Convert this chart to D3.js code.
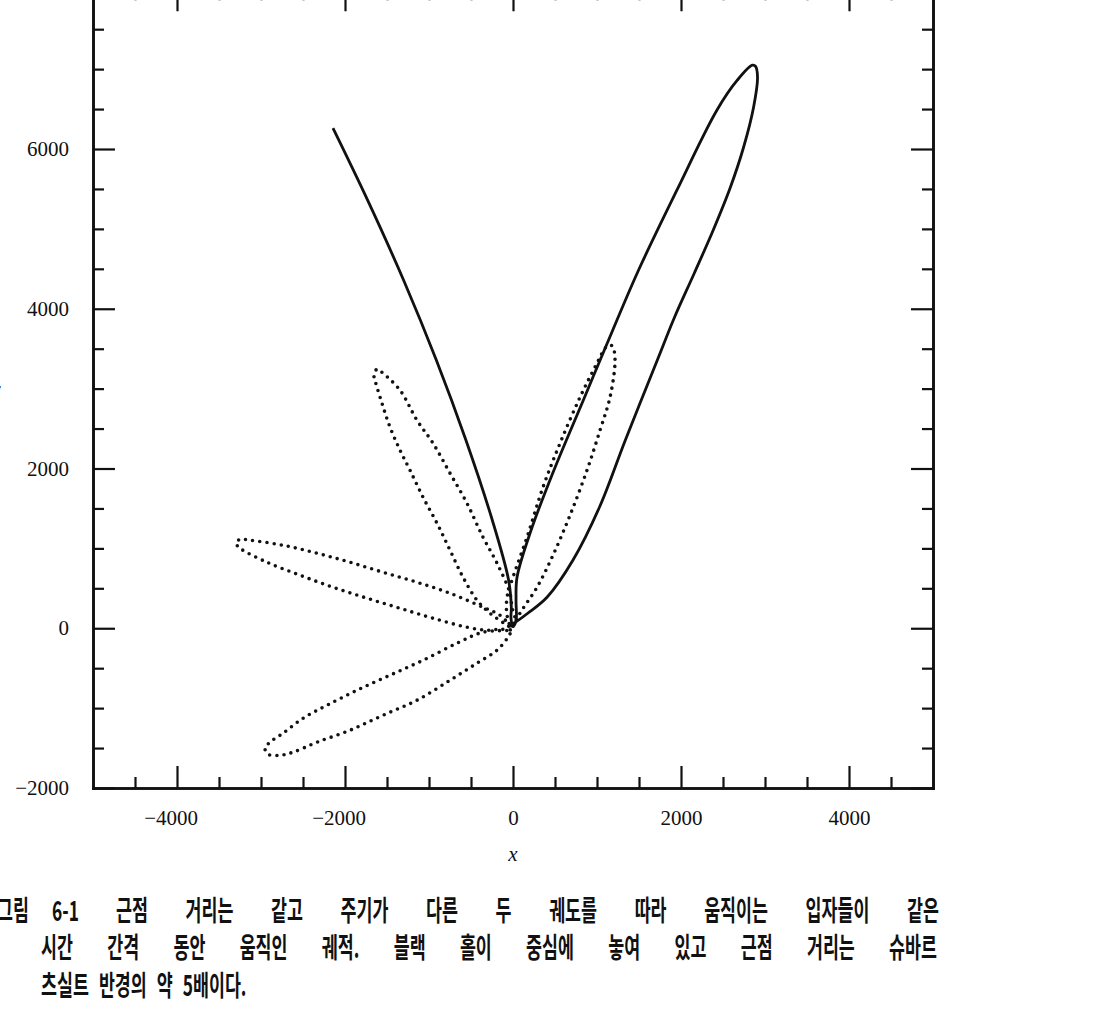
<!DOCTYPE html>
<html>
<head>
<meta charset="utf-8">
<script src="https://cdn.jsdelivr.net/npm/d3@7"></script>
<style>
  html, body { margin: 0; padding: 0; background: #fff; }
  svg { display: block; }
</style>
</head>
<body>
<div id="chart"></div>
<script>

// orbit, [x, y] in the plot's own units
var solidOrbit = [
  [-2143, 6260], [-1731, 5359], [-1302, 4357], [-912, 3355], [-560, 2354],
  [-246, 1352], [-52, 601], [-20, 263], [-24, 125], [0, 25], [36, 88],
  [36, 351], [48, 638], [215, 1227], [487, 1978], [837, 2855], [1187, 3731],
  [1494, 4482], [1951, 5484], [2427, 6485], [2670, 6861], [2849, 7049],
  [2887, 7036], [2911, 6898], [2864, 6523], [2745, 6022], [2588, 5521],
  [2383, 4983], [2158, 4445], [1923, 3894], [1727, 3380], [1337, 2354],
  [1029, 1515], [713, 851], [405, 388], [176, 188], [10, 63], [-60, 25]
];

var dottedOrbit = [
  // petal A (upper right)
  [0, 25], [83, 188], [286, 513], [476, 914], [679, 1415], [881, 1978],
  [1036, 2479], [1155, 2892], [1214, 3318], [1202, 3480], [1167, 3543],
  [1107, 3518], [1000, 3318], [798, 2892], [560, 2316], [357, 1765],
  [167, 1139], [0, 639], [-71, 388], [-71, 163], [-24, 25], [24, 100],
  // petal B
  [-12, 263], [-36, 438], [-190, 814], [-357, 1139], [-548, 1565],
  [-750, 1941], [-952, 2316], [-1143, 2604], [-1345, 2980], [-1548, 3193],
  [-1619, 3243], [-1655, 3168], [-1643, 3105], [-1560, 2817], [-1464, 2517],
  [-1345, 2229], [-1226, 1978], [-1071, 1640], [-905, 1315], [-750, 977],
  [-595, 639], [-429, 351], [-274, 188], [-107, 63], [-12, 0],
  // petal C
  [-155, 163], [-357, 263], [-750, 438], [-1143, 576], [-1548, 701],
  [-1940, 826], [-2333, 939], [-2738, 1039], [-3131, 1102], [-3250, 1114],
  [-3298, 1064], [-3250, 1002], [-2929, 826], [-2536, 664], [-2143, 513],
  [-1738, 376], [-1345, 250], [-952, 125], [-548, 13], [-310, -25],
  [-155, -13], [-12, -25],
  // petal D (lower left)
  [-357, -50], [-667, -188], [-1071, -401], [-1464, -588], [-1857, -776],
  [-2214, -964], [-2500, -1127], [-2738, -1315], [-2893, -1427], [-2952, -1502],
  [-2917, -1577], [-2774, -1590], [-2619, -1552], [-2333, -1427], [-1940, -1277],
  [-1548, -1089], [-1143, -901], [-750, -651], [-429, -438], [-190, -275],
  [-60, -113], [-12, -25]
];

var xMajorTicks = [ -4000, -2000, 0, 2000, 4000 ];
var xMinorTicks = [ -4500, -3500, -3000, -2500, -1500, -1000, -500, 500, 1000, 1500, 2500, 3000, 3500, 4500 ];
var yMajorTicks = [ -2000, 0, 2000, 4000, 6000, 8000 ];
var yMinorTicks = [ -1500, -1000, -500, 500, 1000, 1500, 2500, 3000, 3500, 4500, 5000, 5500, 6500, 7000, 7500 ];

var xLabel = 'x', yLabel = 'y';

var captionHead = [ '그림', '6-1' ];
var captionLine1 = [ '근점', '거리는', '같고', '주기가', '다른', '두', '궤도를', '따라', '움직이는', '입자들이', '같은' ];
var captionLine2 = [ '시간', '간격', '동안', '움직인', '궤적.', '블랙', '홀이', '중심에', '놓여', '있고', '근점', '거리는', '슈바르' ];
var captionLine3 = [ '츠실트', '반경의', '약', '5배이다.' ];

var width = 1104, height = 1028;
var serif = "'Liberation Serif', 'DejaVu Serif', serif";
var hangul = "'Noto Sans CJK KR', 'Noto Sans', sans-serif";
var ink = '#111';

var svg = d3.select( '#chart' ).append( 'svg' )
  .attr( 'width', width )
  .attr( 'height', height );

var xScale = d3.scaleLinear().domain( [ -5000, 5000 ] ).range( [ 93, 933 ] );
var yScale = d3.scaleLinear().domain( [ -2000, 8000 ] ).range( [ 788, -10.75 ] );

function numLabel( d ) {
  return d < 0 ? '\u2212' + Math.abs( d ) : String( d );
}

function styleAxis( g ) {
  g.attr( 'font-family', serif ).attr( 'font-size', 21 );
  g.select( '.domain' ).attr( 'stroke', ink ).attr( 'stroke-width', 2.6 ).attr( 'stroke-linecap', 'square' );
  g.selectAll( '.tick line' ).attr( 'stroke', ink ).attr( 'stroke-width', 2.2 );
  g.selectAll( '.tick text' ).attr( 'fill', ink );
}

// minor ticks first, majors on top
var axes = [
  [ d3.axisBottom( xScale ).tickValues( xMinorTicks ).tickSize( -11 ).tickFormat( '' ), 'translate(0,' + yScale( -2000 ) + ')' ],
  [ d3.axisTop( xScale ).tickValues( xMinorTicks ).tickSize( -11 ).tickFormat( '' ), 'translate(0,' + yScale( 8000 ) + ')' ],
  [ d3.axisLeft( yScale ).tickValues( yMinorTicks ).tickSize( -11 ).tickFormat( '' ), 'translate(' + xScale( -5000 ) + ',0)' ],
  [ d3.axisRight( yScale ).tickValues( yMinorTicks ).tickSize( -11 ).tickFormat( '' ), 'translate(' + xScale( 5000 ) + ',0)' ],
  [ d3.axisBottom( xScale ).tickValues( xMajorTicks ).tickSize( -22 ).tickPadding( 22 ).tickFormat( numLabel ), 'translate(0,' + yScale( -2000 ) + ')', 'bottom' ],
  [ d3.axisTop( xScale ).tickValues( xMajorTicks ).tickSize( -22 ).tickFormat( '' ), 'translate(0,' + yScale( 8000 ) + ')' ],
  [ d3.axisLeft( yScale ).tickValues( yMajorTicks ).tickSize( -22 ).tickPadding( 24 ).tickFormat( numLabel ), 'translate(' + xScale( -5000 ) + ',0)' ],
  [ d3.axisRight( yScale ).tickValues( yMajorTicks ).tickSize( -22 ).tickFormat( '' ), 'translate(' + xScale( 5000 ) + ',0)' ]
];

axes.forEach( function( a ) {
  var g = svg.append( 'g' )
    .attr( 'transform', a[ 1 ] )
    .call( a[ 0 ].tickSizeOuter( 0 ) )
    .call( styleAxis );
  if( a[ 2 ] === 'bottom' ) {
    // digits sit centred on the tick, the minus hangs to the left
    g.selectAll( '.tick text' ).filter( d => d < 0 ).attr( 'dx', '-0.3em' );
  }
} );

// axis titles
svg.append( 'text' )
  .attr( 'x', xScale( 0 ) )
  .attr( 'y', 861 )
  .attr( 'text-anchor', 'middle' )
  .attr( 'font-family', serif )
  .attr( 'font-style', 'italic' )
  .attr( 'font-size', 21 )
  .attr( 'fill', ink )
  .text( xLabel );

svg.append( 'text' )
  .attr( 'x', -4 )
  .attr( 'y', 396 )
  .attr( 'text-anchor', 'middle' )
  .attr( 'font-family', serif )
  .attr( 'font-style', 'italic' )
  .attr( 'font-size', 21 )
  .attr( 'fill', ink )
  .text( yLabel );

// trajectories
var line = d3.line()
  .x( d => xScale( d[ 0 ] ) )
  .y( d => yScale( d[ 1 ] ) )
  .curve( d3.curveCatmullRom.alpha( 0.5 ) );

svg.append( 'path' )
  .datum( dottedOrbit )
  .attr( 'd', line )
  .attr( 'fill', 'none' )
  .attr( 'stroke', ink )
  .attr( 'stroke-width', 3.6 )
  .attr( 'stroke-linecap', 'round' )
  .attr( 'stroke-dasharray', '0 7.2' );

svg.append( 'path' )
  .datum( solidOrbit )
  .attr( 'd', line )
  .attr( 'fill', 'none' )
  .attr( 'stroke', ink )
  .attr( 'stroke-width', 2.8 )
  .attr( 'stroke-linejoin', 'round' );

// caption, justified word by word like the printed page
var capSize = 28, capScale = 0.62;

function capWord( w, x, yb ) {
  return svg.append( 'text' )
    .attr( 'transform', 'translate(' + x + ',' + yb + ') scale(' + capScale + ',1)' )
    .attr( 'font-family', hangul )
    .attr( 'font-weight', 700 )
    .attr( 'font-size', capSize )
    .attr( 'fill', ink )
    .text( w );
}

function capLine( words, x0, x1, yb, gap ) {
  var nodes = words.map( w => capWord( w, 0, yb ) );
  var widths = nodes.map( n => n.node().getComputedTextLength() * capScale );
  var total = d3.sum( widths );
  var g = gap !== undefined ? gap : ( x1 - x0 - total ) / ( words.length - 1 );
  var pos = x0;
  nodes.forEach( function( n, i ) {
    n.attr( 'transform', 'translate(' + pos + ',' + yb + ') scale(' + capScale + ',1)' );
    pos += widths[ i ] + g;
  } );
}

capWord( captionHead[ 0 ], -3, 921 );
capWord( captionHead[ 1 ], 52, 921 );
capLine( captionLine1, 116, 939, 921 );
capLine( captionLine2, 41, 937, 958 );
capLine( captionLine3, 41, null, 996, 10 );

</script>
</body>
</html>
